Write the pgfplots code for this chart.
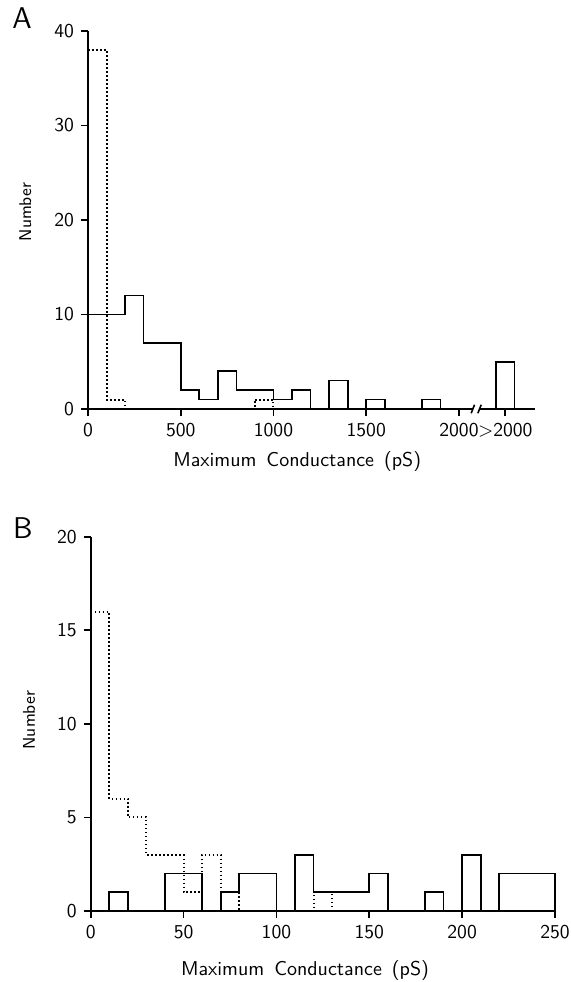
\documentclass[border=0pt]{standalone}
\usepackage{pgfplots}
\pgfplotsset{compat=1.18}

\pgfplotsset{
  panel/.style={
    scale only axis, anchor=origin, clip=false,
    axis x line=bottom, axis y line=left,
    axis line style={line width=1.2pt,-},
    every outer x axis line/.append style={-},
    every outer y axis line/.append style={-},
    tick align=outside, major tick length=3.5pt,
    tick style={line width=0.9pt, black},
    tick label style={font=\fontsize{9.8}{11}\selectfont\sffamily},
    /pgf/number format/assume math mode=true,
    xlabel style={font=\fontsize{10}{12}\selectfont\sffamily, anchor=center},
    ylabel style={font=\fontsize{8.5}{10}\selectfont\sffamily, anchor=center},
  },
  solidh/.style={black, line width=0.85pt, const plot, mark=none},
  dotth/.style={black, line width=1pt, const plot, mark=none, dash pattern=on 0.8pt off 1.2pt},
}

\begin{document}
\begin{tikzpicture}
\useasboundingbox (0pt,0pt) rectangle (285pt,491pt);

\node[font=\fontsize{15}{17}\selectfont\sffamily] at (11pt,482pt) {A};
\node[font=\fontsize{15}{17}\selectfont\sffamily] at (11.5pt,227pt) {B};

% panel A
\begin{axis}[panel, at={(44pt,286.5pt)},
  width=223.5pt, height=189pt,
  xmin=0, xmax=2410, ymin=0, ymax=40,
  xtick={0,500,1000,1500,2000,2250},
  xticklabels={0,500,1000,1500,2000,>2000},
  ytick={0,10,20,30,40},
  xlabel={Maximum\hspace{0.5em}Conductance\hspace{0.5em}(pS)},
  xlabel style={at={(axis description cs:0.468,-0.14)}},
  ylabel={Number},
  ylabel style={at={(axis description cs:-0.14,0.521)}}]
\addplot[solidh] coordinates {(0,10) (200,12) (300,7) (500,2) (600,1) (700,4) (800,2)
  (1000,1) (1100,2) (1200,0) (1300,3) (1400,0) (1500,1) (1600,0) (1800,1) (1900,0)};
\addplot[solidh] coordinates {(2100,0) (2200,5) (2300,0)};
\addplot[dotth] coordinates {(0,38) (100,1) (200,0) (900,1) (1000,0)};
% axis break
\fill[white] (axis cs:2078,-0.35) rectangle (axis cs:2110,0.35);
\draw[line width=0.8pt] (axis cs:2066,-0.45) -- (axis cs:2084,0.45);
\draw[line width=0.8pt] (axis cs:2102,-0.45) -- (axis cs:2120,0.45);
\end{axis}

% panel B
\begin{axis}[panel, at={(45.35pt,35.5pt)},
  width=232.15pt, height=187.15pt,
  xmin=0, xmax=250, ymin=0, ymax=20,
  xtick={0,50,100,150,200,250},
  ytick={0,5,10,15,20},
  xlabel={Maximum\hspace{0.5em}Conductance\hspace{0.5em}(pS)},
  xlabel style={at={(axis description cs:0.4616,-0.158)}},
  ylabel={Number},
  ylabel style={at={(axis description cs:-0.133,0.51)}}]
\addplot[solidh] coordinates {(0,0) (10,1) (20,0) (40,2) (60,0) (70,1) (80,2) (100,0)
  (110,3) (120,1) (150,2) (160,0) (180,1) (190,0) (200,3) (210,0) (220,2) (250,0)};
\addplot[dotth] coordinates {(0,16) (10,6) (20,5) (30,3) (50,1) (60,3) (70,1) (80,0)
  (120,1) (130,0)};
\end{axis}
\end{tikzpicture}
\end{document}
